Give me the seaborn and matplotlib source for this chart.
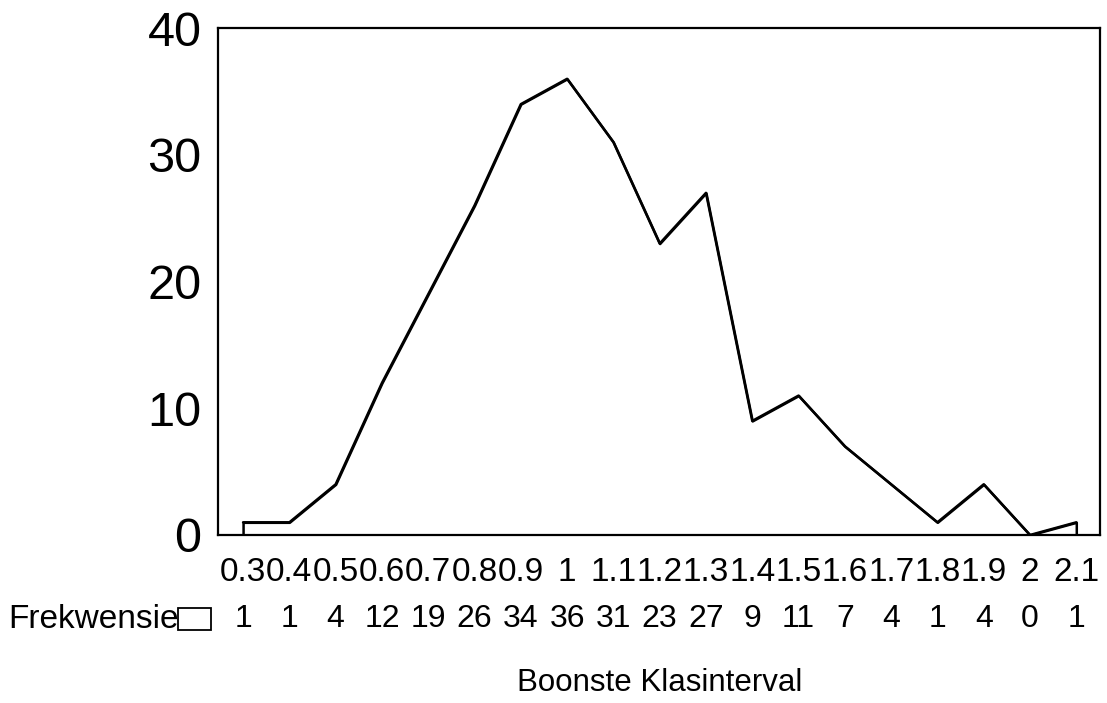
import numpy as np
import pandas as pd
import matplotlib
matplotlib.use('Agg')
import matplotlib.pyplot as plt
import matplotlib.transforms as mtransforms
from matplotlib.patches import Rectangle
import seaborn as sns

# Data
klasse = ['0.3', '0.4', '0.5', '0.6', '0.7', '0.8', '0.9', '1', '1.1', '1.2',
          '1.3', '1.4', '1.5', '1.6', '1.7', '1.8', '1.9', '2', '2.1']
frekwensie = [1, 1, 4, 12, 19, 26, 34, 36, 31, 23, 27, 9, 11, 7, 4, 1, 4, 0, 1]

df = pd.DataFrame({'pos': np.arange(len(klasse)), 'Klas': klasse, 'Frekwensie': frekwensie})

sns.set_style('white')
plt.rcParams['font.family'] = ['Liberation Sans', 'DejaVu Sans']
plt.rcParams['text.color'] = 'black'
plt.rcParams['xtick.color'] = 'black'
plt.rcParams['ytick.color'] = 'black'

fig = plt.figure(figsize=(11.07, 7.03), dpi=100)
ax = fig.add_axes([0.197, 0.239, 0.797, 0.721])

# area chart: white fill with black outline
ax.fill_between(df['pos'], df['Frekwensie'], facecolor='white', edgecolor='black', linewidth=1.8)
sns.lineplot(data=df, x='pos', y='Frekwensie', ax=ax, color='black', linewidth=1.8)

ax.set_xlim(-0.54, len(klasse) - 0.48)
ax.set_ylim(0, 40)
ax.set_yticks([0, 10, 20, 30, 40])
ax.set_xticks(df['pos'])
ax.set_xticklabels(klasse)
ax.tick_params(axis='y', length=0, pad=12, labelsize=35)
ax.tick_params(axis='x', length=0, pad=16, labelsize=24)
for s in ax.spines.values():
    s.set_visible(True)
    s.set_color('black')
    s.set_linewidth(1.6)
ax.set_xlabel('')
ax.set_ylabel('')

# data table row under the axis
trans = mtransforms.blended_transform_factory(ax.transData, fig.transFigure)
for p, v in zip(df['pos'], frekwensie):
    ax.text(p, 1 - 619 / 703, str(v), transform=trans, ha='center', va='center',
            fontsize=23, clip_on=False)
fig.text(8 / 1107, 1 - 619 / 703, 'Frekwensie', ha='left', va='center', fontsize=24)
fig.patches.append(Rectangle((178 / 1107, 1 - 630 / 703), 33 / 1107, 22 / 703,
                             transform=fig.transFigure, facecolor='white',
                             edgecolor='black', linewidth=1.3))

fig.text(660 / 1107, 1 - 683 / 703, 'Boonste Klasinterval', ha='center', va='center', fontsize=22.5)

fig.savefig('out.png', dpi=100)
